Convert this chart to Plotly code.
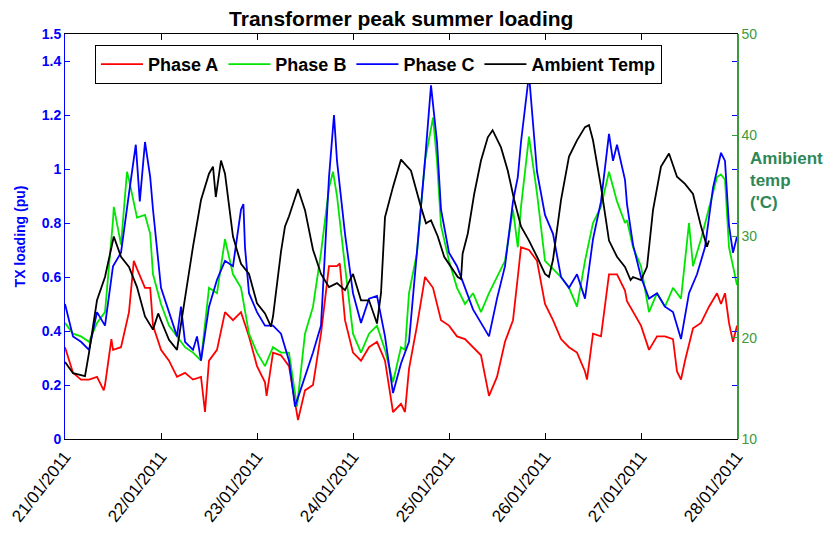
import pandas as pd
import plotly.graph_objects as go

start = pd.Timestamp("2011-01-21")
day_ticks = ["21/01/2011", "22/01/2011", "23/01/2011", "24/01/2011",
             "25/01/2011", "26/01/2011", "27/01/2011", "28/01/2011"]

# Phase A (pu) : hours since 21/01/2011 00:00 and values
a_hours = [0, 2, 4, 6, 8, 9.7, 10, 11.6, 12, 14, 16, 17.2, 18, 20, 21.3, 22, 24, 26, 28,
           30, 32, 34, 35, 36, 38, 40, 42, 44, 46, 48, 50, 50.4, 52, 54, 56,
           58, 58.25, 60, 62, 64, 66, 68, 68.7, 70, 72, 74, 76, 78, 80, 82, 84,
           85, 86, 88, 90, 92, 94, 96, 98, 100, 102, 104, 106, 108, 110, 112, 113.2,
           114, 116, 118, 120, 122, 124, 126, 128, 130, 130.5, 132, 134, 136, 138, 140,
           140.5, 142, 144, 146, 148, 150, 152, 153, 154, 155, 157, 159, 161, 163, 164,
           165, 166, 167, 168]
a_vals = [0.34, 0.245, 0.22, 0.22, 0.23, 0.18, 0.20, 0.37, 0.33, 0.34, 0.47, 0.66, 0.63, 0.56, 0.56, 0.42, 0.33, 0.29, 0.23,
          0.245, 0.22, 0.23, 0.10, 0.29, 0.33, 0.47, 0.44, 0.47, 0.38, 0.27, 0.21, 0.16, 0.32, 0.31, 0.27,
          0.10, 0.07, 0.18, 0.20, 0.39, 0.64, 0.64, 0.65, 0.44, 0.32, 0.29, 0.34, 0.36, 0.29, 0.10, 0.13,
          0.10, 0.26, 0.42, 0.60, 0.56, 0.44, 0.42, 0.38, 0.37, 0.34, 0.31, 0.16, 0.23, 0.36, 0.44, 0.60,
          0.71, 0.70, 0.66, 0.50, 0.44, 0.37, 0.34, 0.32, 0.25, 0.22, 0.39, 0.38, 0.61, 0.61, 0.55,
          0.51, 0.47, 0.42, 0.33, 0.38, 0.38, 0.37, 0.25, 0.22, 0.29, 0.41, 0.43, 0.49, 0.54, 0.50,
          0.54, 0.43, 0.36, 0.42]

# Phase B (pu)
b_hours = [0, 2, 4, 6, 8, 10, 12, 12.2, 14, 15.5, 16, 18, 20, 21.3, 22, 24, 26, 28,
           30, 32, 34, 36, 38, 40, 42, 44, 46, 48, 50, 52, 54, 56,
           58, 60, 62, 64, 66, 67, 68, 70, 72, 74, 76, 78, 80, 82, 84,
           85, 86, 88, 90, 92, 93, 94, 96, 98, 100, 102, 104, 106, 108, 110, 112, 113.2,
           114, 116, 118, 120, 122, 124, 126, 128, 130, 132, 134, 136, 138, 140,
           140.5, 142, 144, 146, 148, 150, 152, 154, 156, 157, 159, 161, 163, 164, 165,
           166, 167, 168]
b_vals = [0.43, 0.39, 0.38, 0.36, 0.43, 0.47, 0.81, 0.86, 0.72, 0.99, 0.96, 0.82, 0.83, 0.76, 0.61, 0.50, 0.42, 0.38,
          0.34, 0.32, 0.29, 0.56, 0.54, 0.74, 0.61, 0.56, 0.39, 0.32, 0.27, 0.34, 0.32, 0.32,
          0.12, 0.39, 0.49, 0.69, 0.93, 0.99, 0.90, 0.64, 0.39, 0.32, 0.39, 0.42, 0.33, 0.21, 0.34,
          0.33, 0.54, 0.69, 1.03, 1.19, 1.03, 0.79, 0.66, 0.56, 0.50, 0.54, 0.47, 0.54, 0.60, 0.66, 0.85, 0.71,
          0.86, 1.12, 0.91, 0.66, 0.63, 0.60, 0.56, 0.49, 0.66, 0.80, 0.86, 0.99, 0.88, 0.80,
          0.81, 0.71, 0.64, 0.47, 0.54, 0.49, 0.56, 0.52, 0.80, 0.64, 0.74, 0.85, 0.97, 0.98, 0.96,
          0.71, 0.64, 0.57]

# Phase C (pu)
c_hours = [0, 2, 4, 6, 8, 10, 12, 14, 16, 17.7, 18.7, 20, 21.3, 22, 24, 26, 28,
           29, 30, 32, 33, 34, 36, 38, 40, 42, 44, 44.6, 45, 46, 48, 50, 52, 54, 56,
           57.5, 60, 62, 64, 66, 67.25, 68, 70, 72, 74, 76, 78, 80, 82, 84,
           86, 88, 90, 91.5, 93, 94, 96, 98, 100, 102, 104, 106, 108, 110, 112, 113.2,
           114, 116, 118, 120, 122, 124, 126, 128, 130, 132, 134, 136, 137, 138, 140,
           140.5, 142, 144, 146, 148, 150, 152, 154, 156, 158, 160, 162, 164, 165, 166,
           167, 168]
c_vals = [0.50, 0.38, 0.36, 0.33, 0.47, 0.42, 0.64, 0.69, 0.91, 1.09, 0.88, 1.10, 0.97, 0.85, 0.56, 0.47, 0.38,
          0.49, 0.36, 0.33, 0.38, 0.29, 0.49, 0.59, 0.66, 0.64, 0.85, 0.87, 0.71, 0.54, 0.47, 0.42, 0.42, 0.39, 0.29,
          0.12, 0.23, 0.32, 0.42, 0.97, 1.20, 1.03, 0.76, 0.54, 0.43, 0.52, 0.53, 0.38, 0.17, 0.28,
          0.36, 0.69, 1.03, 1.31, 1.10, 0.85, 0.69, 0.64, 0.56, 0.48, 0.43, 0.38, 0.52, 0.64, 0.88, 0.97,
          1.10, 1.35, 0.99, 0.83, 0.76, 0.60, 0.56, 0.61, 0.52, 0.74, 0.88, 1.13, 1.03, 1.09, 0.96,
          0.87, 0.72, 0.60, 0.52, 0.54, 0.49, 0.47, 0.37, 0.54, 0.61, 0.71, 0.93, 1.06, 1.03, 0.79,
          0.69, 0.75]

# Ambient temperature ('C)
t_hours = [0, 2, 4, 5, 6, 8, 10, 12, 12.2, 14, 16, 18, 20, 22, 23.3, 24, 26, 28,
           30, 32, 34, 36, 37, 37.7, 39, 40, 42, 44, 46, 48, 50, 51.5, 52, 54, 55, 56,
           58.25, 60, 62, 64, 66, 68, 70, 72, 74, 76, 78, 79, 80, 82, 84,
           86.5, 89, 90.25, 91.5, 93.2, 94.8, 96.5, 98.2, 99, 99.4, 100.7, 102.3, 104, 105.7,
           106.9, 109, 110.7, 112.3, 114, 116, 118, 120, 121, 122, 124, 126, 128, 130, 131,
           132, 134, 136, 138, 140, 141.4, 142, 144, 145.5, 147, 149, 151, 153, 155, 157,
           159, 160.5, 161]
t_vals = [17.6, 16.5, 16.3, 16.2, 18.5, 23.7, 26.0, 29.6, 30.0, 28.0, 27.0, 25.0, 22.1, 20.8, 22.4, 21.7, 19.8, 18.8,
          24.0, 29.0, 33.6, 36.2, 36.9, 33.9, 37.5, 36.2, 30.0, 27.3, 26.3, 23.4, 22.4, 21.1, 22.1, 28.5, 31.0, 32.0,
          34.7, 32.6, 28.7, 26.3, 25.0, 25.4, 24.7, 26.3, 23.7, 23.7, 21.4, 24.4, 31.9, 34.9, 37.6,
          36.5, 32.9, 31.3, 31.6, 30.0, 28.0, 27.0, 26.0, 25.8, 28.3, 30.3, 34.2, 37.5, 39.8,
          40.5, 38.8, 36.5, 33.6, 31.0, 29.6, 28.0, 26.3, 26.0, 27.7, 33.6, 37.9, 39.5, 40.8, 41.0,
          39.5, 34.9, 29.6, 28.0, 27.0, 25.7, 26.0, 25.7, 27.0, 32.6, 36.9, 38.2, 35.9, 35.2, 34.2,
          31.0, 29.0, 29.6]

y1_ticks = [0, 0.2, 0.4, 0.6, 0.8, 1.0, 1.2, 1.4, 1.5]
y1_text = ["0", "0.2", "0.4", "0.6", "0.8", "1", "1.2", "1.4", "1.5"]
y2_ticks = [10, 20, 30, 40, 50]


def to_time(hours):
    return start + pd.to_timedelta(hours, unit="h")


BLUE = "#0000ff"
GREEN_AX = "#3c9a3c"
GREEN_TXT = "#2e8757"
FONT = "Liberation Sans, Arial, sans-serif"

fig = go.Figure()
fig.add_trace(go.Scatter(x=to_time(a_hours), y=a_vals, name="Phase A", mode="lines",
                         line=dict(color="#ff0000", width=1.8)))
fig.add_trace(go.Scatter(x=to_time(b_hours), y=b_vals, name="Phase B", mode="lines",
                         line=dict(color="#00e600", width=1.8)))
fig.add_trace(go.Scatter(x=to_time(c_hours), y=c_vals, name="Phase C", mode="lines",
                         line=dict(color="#0000ff", width=1.8)))
fig.add_trace(go.Scatter(x=to_time(t_hours), y=t_vals, name="Ambient Temp", mode="lines",
                         line=dict(color="#000000", width=1.8), yaxis="y2"))

fig.update_layout(
    width=829, height=534,
    margin=dict(l=65, r=92, t=34, b=95),
    paper_bgcolor="white", plot_bgcolor="white",
    font=dict(family=FONT, color="black"),
    title=dict(text="<b>Transformer peak summer loading</b>", x=0.484, xanchor="center",
               y=0.966, yanchor="middle", yref="container",
               font=dict(family="Liberation Sans Narrow, Arial Narrow, Liberation Sans, Arial",
                         size=21, color="black")),
    showlegend=True,
    legend=dict(orientation="h", x=0.0446, y=0.973, xanchor="left", yanchor="top",
                bgcolor="white", bordercolor="black", borderwidth=1,
                font=dict(family=FONT, size=18, color="black", weight="bold"),
                itemwidth=42, tracegroupgap=0),
    xaxis=dict(type="date", range=[start, start + pd.Timedelta(days=7)],
               tickvals=[start + pd.Timedelta(days=i) for i in range(len(day_ticks))],
               ticktext=day_ticks, tickangle=-52, automargin=False,
               tickfont=dict(family=FONT, size=17, color="black"),
               ticks="inside", ticklen=6, tickcolor="black",
               showline=True, linecolor="black", linewidth=1, mirror="ticks",
               showgrid=False, zeroline=False),
    yaxis=dict(range=[0, 1.5], tickvals=y1_ticks, ticktext=y1_text, automargin=False,
               tickfont=dict(family=FONT, size=14, color=BLUE, weight="bold"),
               ticks="inside", ticklen=5, tickcolor=BLUE,
               showline=True, linecolor=BLUE, linewidth=1, mirror="ticks",
               showgrid=False, zeroline=False,
               title=dict(text="TX loading (pu)", standoff=12,
                          font=dict(family=FONT, size=14, color=BLUE, weight="bold"))),
    yaxis2=dict(range=[10, 50], tickvals=y2_ticks, overlaying="y", side="right",
                automargin=False,
                tickfont=dict(family="Liberation Sans Narrow, Arial Narrow, Liberation Sans", size=14,
                              color=GREEN_AX),
                ticks="inside", ticklen=5, tickcolor=GREEN_AX,
                showline=True, linecolor=GREEN_AX, linewidth=1.5,
                showgrid=False, zeroline=False),
)

fig.add_annotation(text="<b>Amibient<br>temp<br>('C)</b>", xref="paper", yref="paper",
                   x=1.0164, y=0.72, xanchor="left", yanchor="top", align="left",
                   showarrow=False,
                   font=dict(family=FONT, size=17, color=GREEN_TXT))

fig.write_html("out.html", config={"displayModeBar": False},
               post_script="document.body.style.margin='0';document.body.style.padding='0';")
